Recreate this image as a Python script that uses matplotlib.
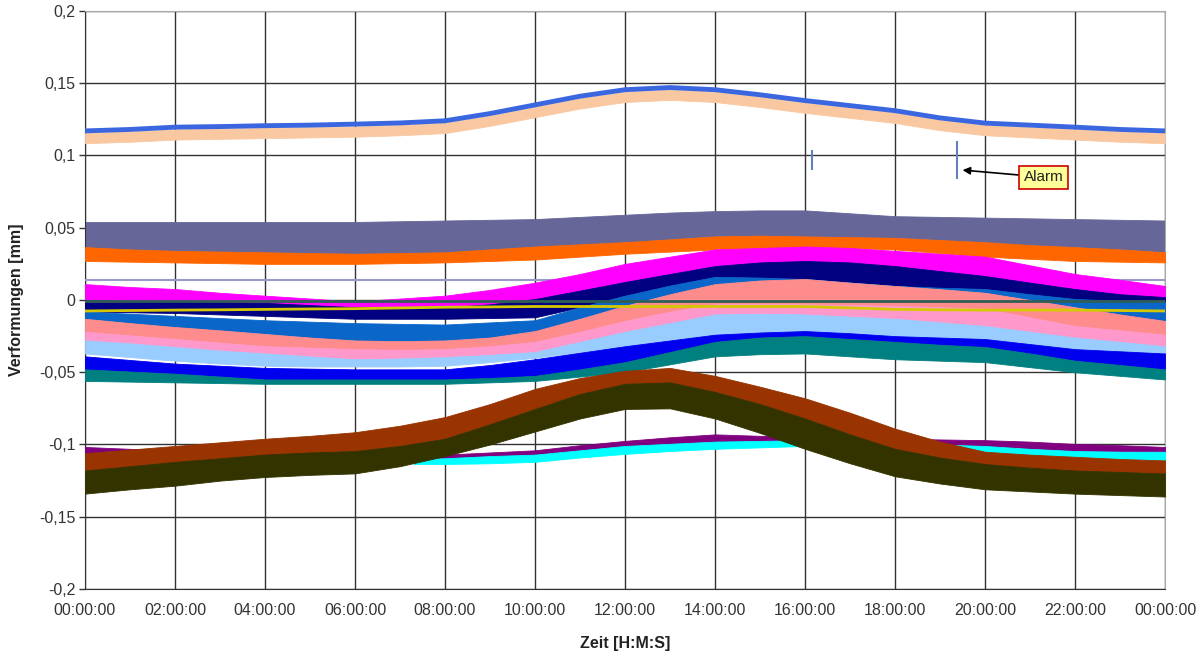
import matplotlib
matplotlib.use("Agg")
import matplotlib.pyplot as plt

plt.rcParams['font.family'] = ['Liberation Sans', 'DejaVu Sans']

# ---------------- data (hourly) ----------------
hours = list(range(25))

blue_mid = [0.117, 0.118, 0.1196, 0.120, 0.1206, 0.121, 0.1217, 0.1225, 0.124, 0.129, 0.135, 0.141, 0.1455,
            0.147, 0.1455, 0.142, 0.138, 0.1345, 0.131, 0.126, 0.1224, 0.121, 0.1196, 0.118, 0.117]
peach_hi = [0.1155, 0.1165, 0.118, 0.1185, 0.119, 0.1195, 0.120, 0.121, 0.1225, 0.1275, 0.1335, 0.1395, 0.144,
            0.1455, 0.144, 0.1405, 0.1365, 0.133, 0.1295, 0.1245, 0.121, 0.1195, 0.118, 0.1165, 0.1155]
peach_lo = [0.1085, 0.1095, 0.111, 0.1115, 0.112, 0.1125, 0.113, 0.114, 0.1155, 0.1205, 0.1265, 0.1325, 0.137,
            0.1385, 0.137, 0.1335, 0.1295, 0.126, 0.1225, 0.1175, 0.114, 0.1125, 0.111, 0.1095, 0.1085]

slate_hi = [0.054, 0.054, 0.054, 0.054, 0.054, 0.054, 0.054, 0.0545, 0.055, 0.0555, 0.056, 0.0575, 0.059,
            0.0605, 0.0615, 0.062, 0.062, 0.060, 0.058, 0.0575, 0.057, 0.0565, 0.056, 0.0555, 0.055]
orange_hi = [0.0366, 0.035, 0.034, 0.0335, 0.033, 0.0325, 0.032, 0.0325, 0.033, 0.035, 0.037, 0.0385, 0.040,
             0.042, 0.044, 0.0445, 0.044, 0.0435, 0.043, 0.0415, 0.040, 0.038, 0.0366, 0.035, 0.033]
orange_lo = [0.027, 0.0265, 0.026, 0.0255, 0.025, 0.025, 0.025, 0.0255, 0.026, 0.027, 0.028, 0.030, 0.032,
             0.0335, 0.035, 0.036, 0.0367, 0.036, 0.035, 0.0325, 0.030, 0.0285, 0.027, 0.0265, 0.026]

lilac_line = [0.0135] * 25

magenta_hi = [0.011, 0.009, 0.0076, 0.005, 0.003, 0.001, -0.001, 0.001, 0.003, 0.007, 0.012, 0.018, 0.025,
              0.030, 0.035, 0.036, 0.037, 0.036, 0.034, 0.032, 0.030, 0.024, 0.018, 0.014, 0.0097]
magenta_lo = [-0.001, -0.0015, -0.002, -0.0025, -0.003, -0.004, -0.005, -0.005, -0.005, -0.004, -0.002, 0.005, 0.012,
              0.018, 0.0235, 0.026, 0.027, 0.026, 0.0235, 0.020, 0.0166, 0.012, 0.0076, 0.004, 0.0007]
navy_hi = [0.0, -0.0005, -0.001, -0.0015, -0.002, -0.0035, -0.005, -0.005, -0.005, -0.003, 0.0007, 0.0065, 0.0125,
           0.018, 0.0235, 0.026, 0.027, 0.026, 0.0235, 0.020, 0.0166, 0.012, 0.0076, 0.004, 0.002]
navy_lo = [-0.008, -0.0085, -0.009, -0.010, -0.011, -0.012, -0.013, -0.013, -0.013, -0.0125, -0.012, -0.005, 0.003,
           0.010, 0.016, 0.0155, 0.0145, 0.012, 0.0097, 0.0085, 0.0076, 0.004, 0.0007, -0.0005, -0.0014]
mblue_hi = [-0.008, -0.0095, -0.011, -0.0125, -0.014, -0.015, -0.016, -0.0165, -0.017, -0.0155, -0.014, -0.005, 0.003,
            0.010, 0.016, 0.0155, 0.0145, 0.012, 0.0097, 0.0085, 0.0076, 0.004, 0.0007, -0.0005, -0.0014]
mblue_lo = [-0.013, -0.016, -0.0187, -0.021, -0.0235, -0.026, -0.028, -0.0285, -0.028, -0.026, -0.0215, -0.013, -0.004,
            0.004, 0.011, 0.0135, 0.0145, 0.012, 0.0097, 0.0075, 0.005, 0.0, -0.005, -0.010, -0.0145]
salmon_lo = [-0.022, -0.0245, -0.027, -0.0295, -0.032, -0.033, -0.034, -0.0345, -0.034, -0.032, -0.029, -0.022, -0.0145,
             -0.008, -0.003, -0.003, -0.003, -0.0035, -0.004, -0.005, -0.006, -0.012, -0.018, -0.021, -0.024]
pink_lo = [-0.028, -0.030, -0.0325, -0.035, -0.037, -0.039, -0.041, -0.0405, -0.0395, -0.038, -0.036, -0.029, -0.022,
           -0.016, -0.010, -0.0095, -0.010, -0.0115, -0.013, -0.0155, -0.018, -0.022, -0.026, -0.029, -0.032]
lblue_lo = [-0.037, -0.0395, -0.042, -0.044, -0.0455, -0.046, -0.046, -0.046, -0.0455, -0.043, -0.040, -0.036, -0.032,
            -0.028, -0.024, -0.0225, -0.022, -0.0235, -0.025, -0.026, -0.027, -0.0305, -0.034, -0.0355, -0.037]
blue2_hi = [-0.039, -0.0415, -0.044, -0.0455, -0.047, -0.0475, -0.048, -0.048, -0.048, -0.045, -0.041, -0.0365, -0.032,
            -0.028, -0.024, -0.0225, -0.0215, -0.023, -0.025, -0.026, -0.027, -0.0305, -0.034, -0.0355, -0.037]
blue2_lo = [-0.048, -0.0495, -0.051, -0.053, -0.055, -0.055, -0.055, -0.055, -0.055, -0.054, -0.0525, -0.048, -0.043,
            -0.036, -0.029, -0.026, -0.025, -0.027, -0.029, -0.031, -0.0325, -0.037, -0.042, -0.045, -0.048]
teal_lo = [-0.056, -0.0565, -0.057, -0.0575, -0.058, -0.058, -0.058, -0.058, -0.058, -0.057, -0.056, -0.053, -0.050,
           -0.0445, -0.039, -0.0375, -0.037, -0.039, -0.041, -0.042, -0.043, -0.0465, -0.050, -0.0525, -0.055]

green_line = [-0.001] * 25
yellow_line = [-0.0076, -0.0073, -0.007, -0.0068, -0.0065, -0.0062, -0.006, -0.0055, -0.005, -0.0048, -0.0045, -0.0045,
               -0.0045, -0.0045, -0.0045, -0.0045, -0.0045, -0.0055, -0.0065, -0.0068, -0.007, -0.007, -0.007, -0.0073,
               -0.0076]

purple_hi = [-0.1017, -0.103, -0.104, -0.1045, -0.105, -0.1055, -0.106, -0.1075, -0.107, -0.1055, -0.104, -0.1005,
             -0.0975, -0.095, -0.093, -0.094, -0.095, -0.0955, -0.096, -0.0965, -0.097, -0.098, -0.0996, -0.1005, -0.1017]
purple_lo = [-0.1065, -0.107, -0.108, -0.1085, -0.109, -0.1095, -0.110, -0.1105, -0.110, -0.109, -0.108, -0.105,
             -0.1017, -0.1005, -0.0996, -0.0998, -0.100, -0.1005, -0.101, -0.1013, -0.1017, -0.103, -0.1045, -0.1048, -0.105]
brown_hi = [-0.106, -0.1035, -0.101, -0.0985, -0.096, -0.094, -0.0915, -0.087, -0.081, -0.072, -0.0615, -0.054, -0.049,
            -0.047, -0.0525, -0.060, -0.068, -0.078, -0.089, -0.098, -0.105, -0.107, -0.1085, -0.110, -0.111]
brown_lo = [-0.118, -0.115, -0.112, -0.1095, -0.107, -0.1055, -0.1045, -0.101, -0.096, -0.086, -0.0754, -0.065, -0.058,
            -0.057, -0.0636, -0.072, -0.082, -0.093, -0.103, -0.109, -0.1135, -0.116, -0.118, -0.119, -0.120]
olive_lo = [-0.134, -0.131, -0.1285, -0.125, -0.1225, -0.121, -0.120, -0.115, -0.108, -0.100, -0.091, -0.082, -0.0754,
            -0.075, -0.082, -0.092, -0.103, -0.113, -0.122, -0.127, -0.131, -0.1325, -0.134, -0.135, -0.136]

cyan_hours = [7.3, 8, 9, 10, 11, 12, 13, 14, 15, 16, 17, 18, 19, 20, 21, 22, 23, 24]
cyan_hi = [-0.110, -0.1095, -0.108, -0.107, -0.104, -0.101, -0.0995, -0.098, -0.0975, -0.097, -0.098, -0.099,
           -0.100, -0.101, -0.103, -0.1045, -0.105, -0.105]
cyan_lo = [-0.1135, -0.1135, -0.113, -0.112, -0.109, -0.1065, -0.1045, -0.103, -0.102, -0.101, -0.1025, -0.104,
           -0.1045, -0.105, -0.107, -0.1085, -0.110, -0.111]

spike_t = [16.15, 19.37]
spike_lo = [0.090, 0.084]
spike_hi = [0.104, 0.110]

alarm_xy = (19.5, 0.0899)
alarm_text_xy = (21.3, 0.085)

x_tick_hours = [0, 2, 4, 6, 8, 10, 12, 14, 16, 18, 20, 22, 24]
x_tick_labels = ["00:00:00", "02:00:00", "04:00:00", "06:00:00", "08:00:00", "10:00:00", "12:00:00",
                 "14:00:00", "16:00:00", "18:00:00", "20:00:00", "22:00:00", "00:00:00"]
y_ticks = [-0.2, -0.15, -0.1, -0.05, 0, 0.05, 0.1, 0.15, 0.2]
y_tick_labels = ["-0,2", "-0,15", "-0,1", "-0,05", "0", "0,05", "0,1", "0,15", "0,2"]

# ---------------- figure ----------------
fig = plt.figure(figsize=(11.97, 6.53), dpi=100)
ax = fig.add_axes([0.0710, 0.0980, 0.9023, 0.8852])

def band(x, lo, hi, color, z):
    ax.fill_between(x, lo, hi, color=color, linewidth=0.6, edgecolor=color, zorder=z)

band(hours, orange_hi, slate_hi, '#666699', 2)
band(hours, orange_lo, orange_hi, '#ff6600', 3)
ax.plot(hours, lilac_line, color='#9999cc', lw=1.5, zorder=3.5)
band(hours, magenta_lo, magenta_hi, '#ff00ff', 4)
band(hours, navy_lo, navy_hi, '#000080', 5)
band(hours, mblue_lo, mblue_hi, '#0a66c8', 6)
band(hours, salmon_lo, mblue_lo, '#ff8c8c', 7)
band(hours, pink_lo, salmon_lo, '#ff99cc', 8)
band(hours, lblue_lo, pink_lo, '#99ccff', 9)
band(hours, blue2_lo, blue2_hi, '#0000ee', 10)
band(hours, teal_lo, blue2_lo, '#008080', 11)
ax.plot(hours, green_line, color='#2f5f55', lw=2, zorder=12)
ax.plot(hours, yellow_line, color='#d6c800', lw=2, zorder=12)

band(hours, purple_lo, purple_hi, '#800080', 13)
band(cyan_hours, cyan_lo, cyan_hi, '#00ffff', 14)
band(hours, brown_lo, brown_hi, '#993300', 15)
band(hours, olive_lo, brown_lo, '#333300', 16)

band(hours, peach_lo, peach_hi, '#fac8a0', 17)
ax.plot(hours, blue_mid, color='#3a66e0', lw=3.5, zorder=18)
ax.vlines(spike_t, spike_lo, spike_hi, color='#6080c0', lw=1.5, zorder=18)

ax.annotate('Alarm', xy=alarm_xy, xytext=alarm_text_xy, fontsize=11, color='#222222',
            ha='center', va='center', zorder=20,
            bbox=dict(boxstyle='square,pad=0.3', facecolor='#ffff99', edgecolor='#cc0000', lw=1.2),
            arrowprops=dict(arrowstyle='-|>', color='black', lw=1.2, shrinkA=0, shrinkB=0))

ax.set_xlim(0, 24)
ax.set_ylim(-0.2, 0.2)
ax.set_xticks(x_tick_hours)
ax.set_xticklabels(x_tick_labels)
ax.set_yticks(y_ticks)
ax.set_yticklabels(y_tick_labels)
ax.tick_params(axis='x', length=0, pad=10, labelsize=11.5, colors='#333333')
ax.tick_params(axis='y', length=4, width=1, pad=3, labelsize=11.5, colors='#333333')
ax.grid(True, color='#333333', lw=1, zorder=1)
ax.set_axisbelow(True)
for s in ['top', 'right']:
    ax.spines[s].set_color('#aaaaaa')
for s in ['left', 'bottom']:
    ax.spines[s].set_color('#333333')

ax.set_xlabel('Zeit [H:M:S]', fontsize=11.5, fontweight='bold', color='#222222', labelpad=13)
ax.set_ylabel('Verformungen [mm]', fontsize=11.5, fontweight='bold', color='#222222', labelpad=11)

fig.savefig('out.png', dpi=100)
